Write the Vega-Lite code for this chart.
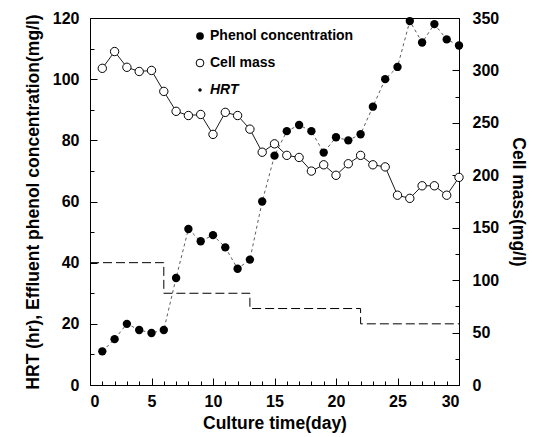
{
  "$schema": "https://vega.github.io/schema/vega-lite/v6.json",
  "width": 369,
  "height": 367,
  "autosize": {"type": "none"},
  "padding": {"left": 90, "top": 18, "right": 80, "bottom": 52},
  "background": "white",
  "config": {
    "view": {"stroke": "black", "strokeWidth": 1},
    "font": "Liberation Sans",
    "axis": {
      "domainColor": "black",
      "tickColor": "black",
      "labelColor": "black",
      "titleColor": "black",
      "grid": false,
      "labelFont": "Liberation Sans",
      "titleFont": "Liberation Sans",
      "labelFontSize": 16,
      "labelFontWeight": "bold",
      "titleFontSize": 17.5,
      "titleFontWeight": "bold"
    },
    "legend": {
      "title": null,
      "orient": "none",
      "legendX": 103,
      "labelFont": "Liberation Sans",
      "labelFontSize": 14,
      "labelFontWeight": "bold",
      "labelColor": "black",
      "symbolSize": 60,
      "labelOffset": 3
    }
  },
  "datasets": {
    "main": [
      {"day": 1, "phenol": 11, "cell": 302},
      {"day": 2, "phenol": 15, "cell": 318},
      {"day": 3, "phenol": 20, "cell": 303},
      {"day": 4, "phenol": 18, "cell": 299},
      {"day": 5, "phenol": 17, "cell": 300},
      {"day": 6, "phenol": 18, "cell": 280},
      {"day": 7, "phenol": 35, "cell": 261},
      {"day": 8, "phenol": 51, "cell": 257},
      {"day": 9, "phenol": 47, "cell": 258},
      {"day": 10, "phenol": 49, "cell": 239},
      {"day": 11, "phenol": 45, "cell": 260},
      {"day": 12, "phenol": 38, "cell": 257},
      {"day": 13, "phenol": 41, "cell": 244},
      {"day": 14, "phenol": 60, "cell": 222},
      {"day": 15, "phenol": 75, "cell": 230},
      {"day": 16, "phenol": 83, "cell": 219},
      {"day": 17, "phenol": 85, "cell": 217},
      {"day": 18, "phenol": 83, "cell": 204},
      {"day": 19, "phenol": 76, "cell": 210},
      {"day": 20, "phenol": 81, "cell": 200},
      {"day": 21, "phenol": 80, "cell": 211},
      {"day": 22, "phenol": 82, "cell": 219},
      {"day": 23, "phenol": 91, "cell": 210},
      {"day": 24, "phenol": 100, "cell": 208},
      {"day": 25, "phenol": 104, "cell": 181},
      {"day": 26, "phenol": 119, "cell": 178},
      {"day": 27, "phenol": 112, "cell": 190},
      {"day": 28, "phenol": 118, "cell": 190},
      {"day": 29, "phenol": 113, "cell": 181},
      {"day": 30, "phenol": 111, "cell": 198}
    ],
    "hrt": [
      {"day": 0, "hrt": 40},
      {"day": 6, "hrt": 30},
      {"day": 13, "hrt": 25},
      {"day": 22, "hrt": 20},
      {"day": 30, "hrt": 20}
    ]
  },
  "encoding": {
    "x": {
      "field": "day", "type": "quantitative", "title": "Culture time(day)",
      "scale": {"domain": [0, 30]},
      "axis": {
        "values": [0,1,2,3,4,5,6,7,8,9,10,11,12,13,14,15,16,17,18,19,20,21,22,23,24,25,26,27,28,29,30],
        "labelExpr": "datum.value % 5 === 0 ? datum.label : ''",
        "tickSize": {"condition": {"test": "datum.value % 5 === 0", "value": -7}, "value": -4},
        "labelPadding": 15,
        "titlePadding": 5
      }
    }
  },
  "layer": [
    {
      "encoding": {
        "y": {
          "type": "quantitative",
          "scale": {"domain": [0, 120]},
          "title": "HRT (hr), Effluent phenol concentration(mg/l)",
          "axis": {
            "orient": "left",
            "values": [0,10,20,30,40,50,60,70,80,90,100,110,120],
            "labelExpr": "datum.value % 20 === 0 ? datum.label : ''",
            "tickSize": {"condition": {"test": "datum.value % 20 === 0", "value": -7}, "value": -4},
            "labelPadding": 18,
            "titlePadding": 10
          }
        }
      },
      "layer": [
        {
          "data": {"name": "hrt"},
          "mark": {"type": "line", "interpolate": "step-after", "strokeWidth": 1, "color": "black"},
          "encoding": {
            "y": {"field": "hrt"},
            "strokeDash": {
              "datum": "HRT", "type": "nominal",
              "scale": {"domain": ["HRT"], "range": [[9, 4]]},
              "legend": {
                "legendY": 65,
                "symbolType": "circle",
                "symbolSize": 4,
                "symbolFillColor": "black",
                "symbolStrokeColor": "black",
                "labelFontStyle": "italic"
              }
            }
          }
        },
        {
          "data": {"name": "main"},
          "mark": {"type": "line", "strokeDash": [3, 3], "strokeWidth": 0.8, "color": "#333"},
          "encoding": {
            "y": {"field": "phenol"}
          }
        },
        {
          "data": {"name": "main"},
          "mark": {"type": "point", "filled": true, "color": "black", "size": 70, "opacity": 1},
          "encoding": {
            "y": {"field": "phenol"},
            "shape": {
              "datum": "Phenol concentration", "type": "nominal",
              "scale": {"domain": ["Phenol concentration"], "range": ["circle"]},
              "legend": {
                "legendY": 11,
                "symbolFillColor": "black",
                "symbolOpacity": 1
              }
            }
          }
        }
      ]
    },
    {
      "encoding": {
        "y": {
          "type": "quantitative",
          "scale": {"domain": [0, 350]},
          "title": "Cell mass(mg/l)",
          "axis": {
            "orient": "right",
            "values": [0,25,50,75,100,125,150,175,200,225,250,275,300,325,350],
            "labelExpr": "datum.value % 50 === 0 ? datum.label : ''",
            "tickSize": {"condition": {"test": "datum.value % 50 === 0", "value": -7}, "value": -4},
            "labelPadding": 20,
            "titlePadding": 10
          }
        }
      },
      "layer": [
        {
          "data": {"name": "main"},
          "mark": {"type": "line", "strokeWidth": 0.9, "color": "black"},
          "encoding": {
            "y": {"field": "cell"}
          }
        },
        {
          "data": {"name": "main"},
          "mark": {"type": "point", "filled": true, "stroke": "black", "strokeWidth": 1, "shape": "circle", "size": 70, "opacity": 1},
          "encoding": {
            "y": {"field": "cell"},
            "fill": {
              "datum": "Cell mass", "type": "nominal",
              "scale": {"domain": ["Cell mass"], "range": ["white"]},
              "legend": {
                "legendY": 38,
                "symbolType": "circle",
                "symbolStrokeColor": "black",
                "symbolStrokeWidth": 1,
                "symbolOpacity": 1
              }
            }
          }
        }
      ]
    }
  ],
  "resolve": {"scale": {"y": "independent"}}
}
